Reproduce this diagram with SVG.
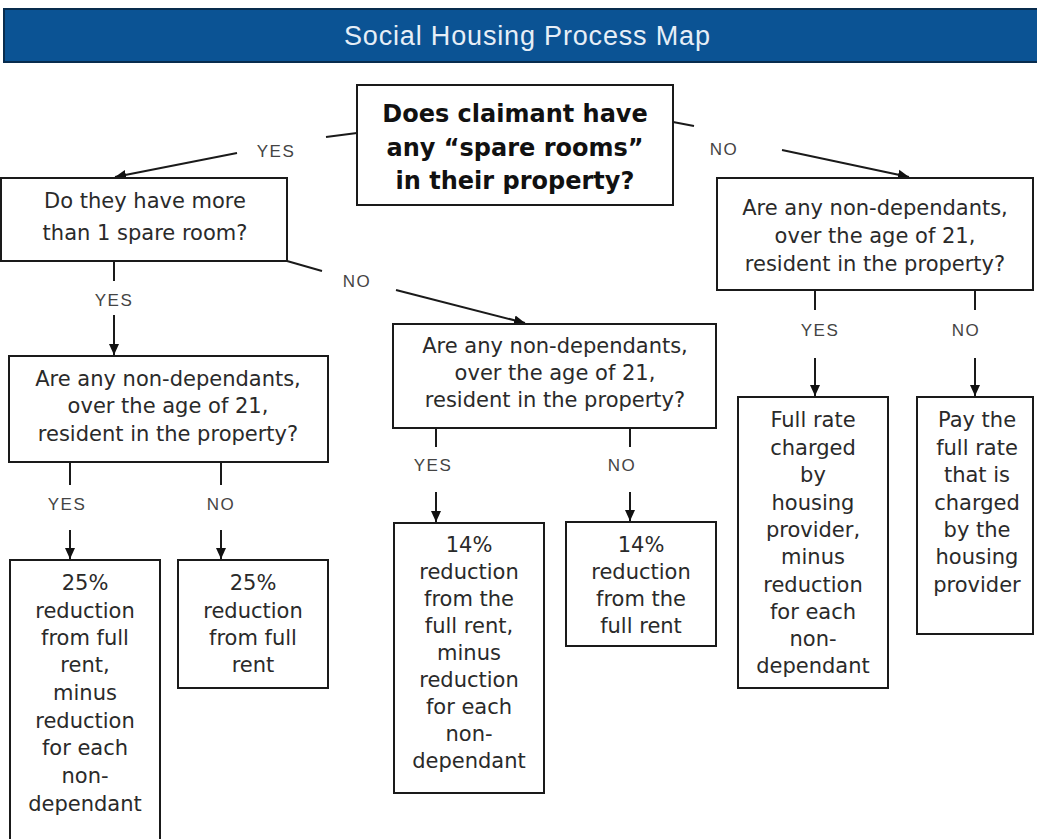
<svg xmlns="http://www.w3.org/2000/svg" width="1037" height="839" viewBox="0 0 1037 839">
<style>
.bg{fill:#ffffff}
.box{fill:#ffffff;stroke:#1a1a1a;stroke-width:2}
.t{font-family:"DejaVu Sans",Verdana,sans-serif;font-size:21px;fill:#2a2a2a;text-anchor:middle}
.tb{font-family:"DejaVu Sans",Verdana,sans-serif;font-size:24px;font-weight:bold;fill:#111;text-anchor:middle}
.lbl{font-family:"Liberation Sans",Arial,sans-serif;font-size:17px;fill:#444;text-anchor:middle;letter-spacing:1.5px}
.ln{fill:none;stroke:#1a1a1a;stroke-width:2}
.ar{fill:none;stroke:#1a1a1a;stroke-width:2;marker-end:url(#ah)}
</style>
<defs>
<marker id="ah" markerUnits="userSpaceOnUse" markerWidth="12" markerHeight="12" refX="11" refY="6" orient="auto" viewBox="0 0 12 12">
<path d="M0,1 L11,6 L0,11 z" fill="#111"/>
</marker>
</defs>
<rect class="bg" x="0" y="0" width="1037" height="839"/>
<g id="header">
<rect x="4" y="9" width="1035" height="53" fill="#0B5394" stroke="#082c4e" stroke-width="2"/>
<text x="527" y="45" font-family="Liberation Sans, Arial, sans-serif" font-size="27" fill="#e6eef7" text-anchor="middle" textLength="366" lengthAdjust="spacing">Social Housing Process Map</text>
</g>
<g id="connectors">
<line class="ln" x1="357" y1="133" x2="326" y2="137"/>
<text class="lbl" x="276" y="157">YES</text>
<line class="ar" x1="237" y1="153" x2="115" y2="177"/>
<line class="ln" x1="673" y1="122" x2="694" y2="126"/>
<text class="lbl" x="724" y="155">NO</text>
<line class="ar" x1="782" y1="150" x2="909" y2="177"/>
<line class="ln" x1="287" y1="261" x2="322" y2="271"/>
<text class="lbl" x="357" y="287">NO</text>
<line class="ar" x1="396" y1="290" x2="525" y2="323"/>
<line class="ln" x1="114" y1="261" x2="114" y2="281"/>
<text class="lbl" x="114" y="306">YES</text>
<line class="ar" x1="114" y1="315" x2="114" y2="355"/>
<line class="ln" x1="70" y1="462" x2="70" y2="485"/>
<text class="lbl" x="67" y="510">YES</text>
<line class="ar" x1="70" y1="530" x2="70" y2="559"/>
<line class="ln" x1="221" y1="462" x2="221" y2="485"/>
<text class="lbl" x="221" y="510">NO</text>
<line class="ar" x1="221" y1="530" x2="221" y2="559"/>
<line class="ln" x1="436" y1="428" x2="436" y2="447"/>
<text class="lbl" x="433" y="471">YES</text>
<line class="ar" x1="436" y1="492" x2="436" y2="522"/>
<line class="ln" x1="630" y1="428" x2="630" y2="447"/>
<text class="lbl" x="622" y="471">NO</text>
<line class="ar" x1="630" y1="492" x2="630" y2="521"/>
<line class="ln" x1="815" y1="290" x2="815" y2="310"/>
<text class="lbl" x="820" y="336">YES</text>
<line class="ar" x1="815" y1="358" x2="815" y2="396"/>
<line class="ln" x1="975" y1="290" x2="975" y2="310"/>
<text class="lbl" x="966" y="336">NO</text>
<line class="ar" x1="975" y1="358" x2="975" y2="396"/>
</g>
<g id="n_spare">
<rect class="box" x="357" y="85" width="316" height="120"/>
<text class="tb" x="515" y="122">Does claimant have</text>
<text class="tb" x="515" y="156">any “spare rooms”</text>
<text class="tb" x="515" y="189">in their property?</text>
</g>
<g id="n_more">
<rect class="box" x="1" y="178" width="286" height="83"/>
<text class="t" x="145" y="208">Do they have more</text>
<text class="t" x="145" y="240">than 1 spare room?</text>
</g>
<g id="n_nd_right">
<rect class="box" x="717" y="178" width="316" height="112"/>
<text class="t" x="875" y="215">Are any non-dependants,</text>
<text class="t" x="875" y="243">over the age of 21,</text>
<text class="t" x="875" y="271">resident in the property?</text>
</g>
<g id="n_nd_left">
<rect class="box" x="9" y="356" width="319" height="106"/>
<text class="t" x="168" y="386">Are any non-dependants,</text>
<text class="t" x="168" y="413">over the age of 21,</text>
<text class="t" x="168" y="441">resident in the property?</text>
</g>
<g id="n_nd_mid">
<rect class="box" x="393" y="324" width="323" height="104"/>
<text class="t" x="555" y="353">Are any non-dependants,</text>
<text class="t" x="555" y="380">over the age of 21,</text>
<text class="t" x="555" y="407">resident in the property?</text>
</g>
<g id="n_25_minus">
<rect class="box" x="10" y="560" width="150" height="300"/>
<text class="t" x="85" y="590">25%</text>
<text class="t" x="85" y="618">reduction</text>
<text class="t" x="85" y="645">from full</text>
<text class="t" x="85" y="672">rent,</text>
<text class="t" x="85" y="700">minus</text>
<text class="t" x="85" y="728">reduction</text>
<text class="t" x="85" y="755">for each</text>
<text class="t" x="85" y="783">non-</text>
<text class="t" x="85" y="811">dependant</text>
</g>
<g id="n_25_full">
<rect class="box" x="178" y="560" width="150" height="128"/>
<text class="t" x="253" y="590">25%</text>
<text class="t" x="253" y="618">reduction</text>
<text class="t" x="253" y="645">from full</text>
<text class="t" x="253" y="672">rent</text>
</g>
<g id="n_14_minus">
<rect class="box" x="394" y="523" width="150" height="270"/>
<text class="t" x="469" y="552">14%</text>
<text class="t" x="469" y="579">reduction</text>
<text class="t" x="469" y="606">from the</text>
<text class="t" x="469" y="633">full rent,</text>
<text class="t" x="469" y="660">minus</text>
<text class="t" x="469" y="687">reduction</text>
<text class="t" x="469" y="714">for each</text>
<text class="t" x="469" y="741">non-</text>
<text class="t" x="469" y="768">dependant</text>
</g>
<g id="n_14_full">
<rect class="box" x="566" y="522" width="150" height="124"/>
<text class="t" x="641" y="552">14%</text>
<text class="t" x="641" y="579">reduction</text>
<text class="t" x="641" y="606">from the</text>
<text class="t" x="641" y="633">full rent</text>
</g>
<g id="n_full_minus">
<rect class="box" x="738" y="397" width="150" height="291"/>
<text class="t" x="813" y="427">Full rate</text>
<text class="t" x="813" y="455">charged</text>
<text class="t" x="813" y="482">by</text>
<text class="t" x="813" y="510">housing</text>
<text class="t" x="813" y="537">provider,</text>
<text class="t" x="813" y="564">minus</text>
<text class="t" x="813" y="592">reduction</text>
<text class="t" x="813" y="619">for each</text>
<text class="t" x="813" y="646">non-</text>
<text class="t" x="813" y="673">dependant</text>
</g>
<g id="n_pay_full">
<rect class="box" x="917" y="397" width="116" height="237"/>
<text class="t" x="977" y="427">Pay the</text>
<text class="t" x="977" y="455">full rate</text>
<text class="t" x="977" y="482">that is</text>
<text class="t" x="977" y="510">charged</text>
<text class="t" x="977" y="537">by the</text>
<text class="t" x="977" y="564">housing</text>
<text class="t" x="977" y="592">provider</text>
</g>
</svg>
